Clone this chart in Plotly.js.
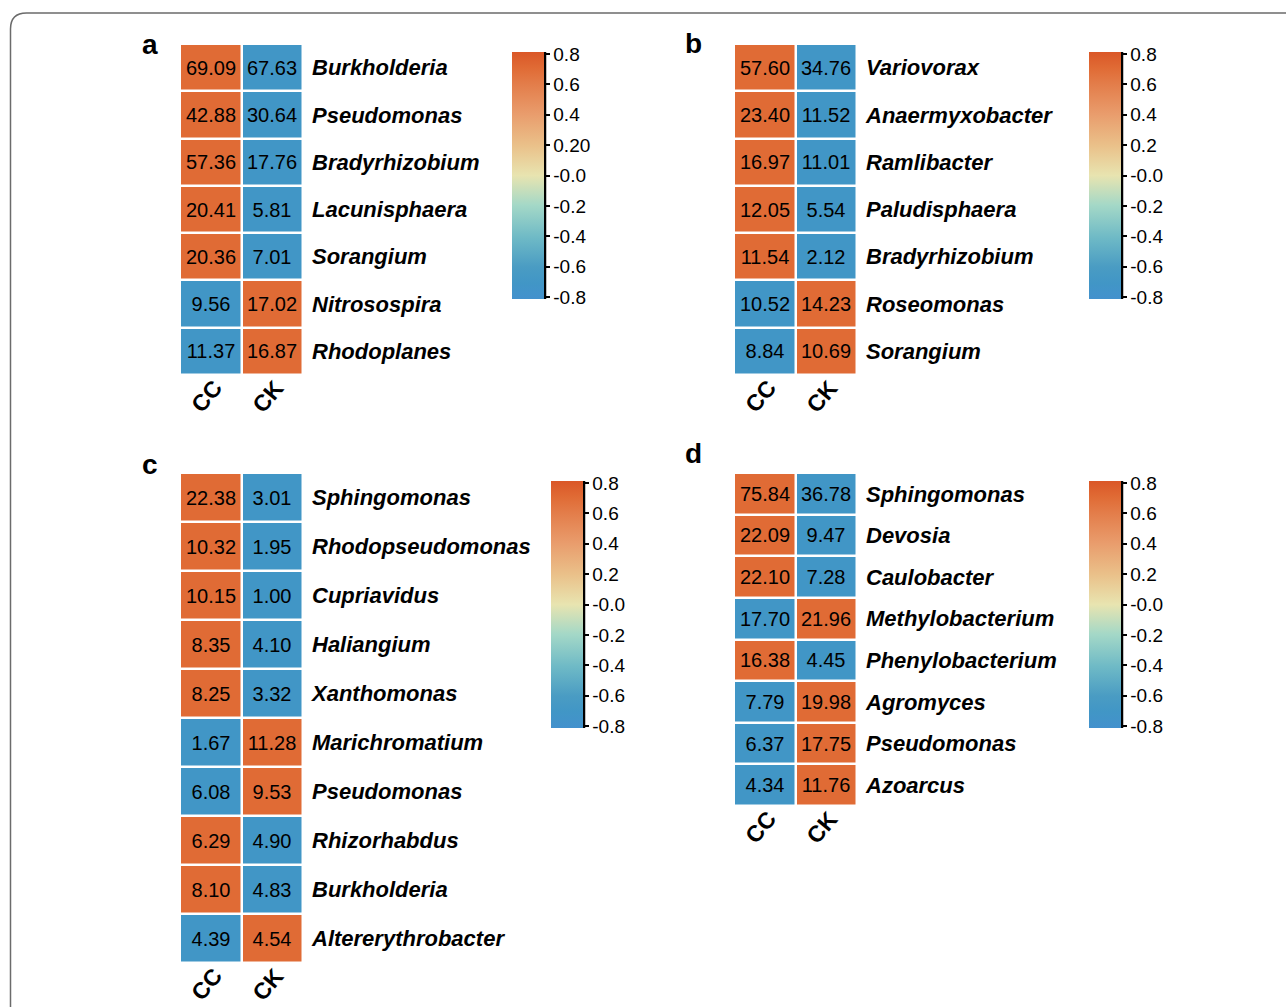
<!DOCTYPE html>
<html>
<head>
<meta charset="utf-8">
<script src="https://cdn.plot.ly/plotly-3.0.1.min.js"></script>
<style>html,body{margin:0;padding:0;background:#fff;}#chart{width:1287px;height:1007px;}</style>
</head>
<body>
<div id="chart"></div>
<script>
// ---------- data ----------
var samples = ["CC", "CK"];

var aGenera = ["Burkholderia", "Pseudomonas", "Bradyrhizobium", "Lacunisphaera", "Sorangium", "Nitrosospira", "Rhodoplanes"];
var aCC = [69.09, 42.88, 57.36, 20.41, 20.36, 9.56, 11.37];
var aCK = [67.63, 30.64, 17.76, 5.81, 7.01, 17.02, 16.87];

var bGenera = ["Variovorax", "Anaermyxobacter", "Ramlibacter", "Paludisphaera", "Bradyrhizobium", "Roseomonas", "Sorangium"];
var bCC = [57.60, 23.40, 16.97, 12.05, 11.54, 10.52, 8.84];
var bCK = [34.76, 11.52, 11.01, 5.54, 2.12, 14.23, 10.69];

var cGenera = ["Sphingomonas", "Rhodopseudomonas", "Cupriavidus", "Haliangium", "Xanthomonas", "Marichromatium", "Pseudomonas", "Rhizorhabdus", "Burkholderia", "Altererythrobacter"];
var cCC = [22.38, 10.32, 10.15, 8.35, 8.25, 1.67, 6.08, 6.29, 8.10, 4.39];
var cCK = [3.01, 1.95, 1.00, 4.10, 3.32, 11.28, 9.53, 4.90, 4.83, 4.54];

var dGenera = ["Sphingomonas", "Devosia", "Caulobacter", "Methylobacterium", "Phenylobacterium", "Agromyces", "Pseudomonas", "Azoarcus"];
var dCC = [75.84, 22.09, 22.10, 17.70, 16.38, 7.79, 6.37, 4.34];
var dCK = [36.78, 9.47, 7.28, 21.96, 4.45, 19.98, 17.75, 11.76];

var cbTickVals = [0.8, 0.6, 0.4, 0.2, 0, -0.2, -0.4, -0.6, -0.8];
var cbTicksA = ["0.8", "0.6", "0.4", "0.20", "-0.0", "-0.2", "-0.4", "-0.6", "-0.8"];
var cbTicksOther = ["0.8", "0.6", "0.4", "0.2", "-0.0", "-0.2", "-0.4", "-0.6", "-0.8"];

// ---------- layout helpers ----------
var W = 1287, H = 1007;
function px(x) { return x / W; }
function py(y) { return 1 - y / H; }

var FONT = "Liberation Sans, Arial, Helvetica, sans-serif";
var colorscale = [
  [0.000, "#4391CD"],
  [0.065, "#4196C6"],
  [0.130, "#4A9CC3"],
  [0.250, "#6FBAC6"],
  [0.380, "#A4D8C7"],
  [0.500, "#E8E4B0"],
  [0.620, "#EAC18A"],
  [0.750, "#E99C6C"],
  [0.870, "#E37D4A"],
  [0.935, "#E06B35"],
  [1.000, "#DA5727"]
];
var ZR = 0.813;

// row-scaled values (z-score within each genus)
function rowScale(cc, ck) {
  return cc.map(function (v, i) {
    var m = (v + ck[i]) / 2;
    var sd = Math.sqrt(((v - m) * (v - m) + (ck[i] - m) * (ck[i] - m)) / 1);
    if (sd === 0) return [0, 0];
    return [(v - m) / sd, (ck[i] - m) / sd];
  });
}
function textGrid(cc, ck) {
  return cc.map(function (v, i) { return [v.toFixed(2), ck[i].toFixed(2)]; });
}

var panels = [
  {key: "a", genera: aGenera, cc: aCC, ck: aCK, x0: 180, x1: 303, y0: 44, y1: 375, cbx: 512, cby0: 52, cby1: 299, ticks: cbTicksA, lx: 150, ly: 45},
  {key: "b", genera: bGenera, cc: bCC, ck: bCK, x0: 734, x1: 857, y0: 44, y1: 375, cbx: 1089, cby0: 52, cby1: 299, ticks: cbTicksOther, lx: 693, ly: 44},
  {key: "c", genera: cGenera, cc: cCC, ck: cCK, x0: 180, x1: 303, y0: 473, y1: 963, cbx: 551, cby0: 481, cby1: 728, ticks: cbTicksOther, lx: 150, ly: 464},
  {key: "d", genera: dGenera, cc: dCC, ck: dCK, x0: 734, x1: 857, y0: 473, y1: 806, cbx: 1089, cby0: 481, cby1: 728, ticks: cbTicksOther, lx: 693, ly: 453}
];

var data = [];
var layout = {
  width: W, height: H,
  margin: {l: 0, r: 0, t: 0, b: 0},
  paper_bgcolor: "#fff",
  plot_bgcolor: "#fff",
  showlegend: false,
  font: {family: FONT, color: "#000"},
  annotations: [],
  shapes: []
};

panels.forEach(function (p, k) {
  var n = k + 1;
  var xa = "x" + (n === 1 ? "" : n), ya = "y" + (n === 1 ? "" : n);
  var xk = "xaxis" + (n === 1 ? "" : n), yk = "yaxis" + (n === 1 ? "" : n);
  data.push({
    type: "heatmap",
    x: samples,
    y: p.genera,
    z: rowScale(p.cc, p.ck),
    text: textGrid(p.cc, p.ck),
    texttemplate: "%{text}",
    textfont: {family: FONT, size: 20, color: "#000"},
    colorscale: colorscale,
    zmin: -ZR, zmax: ZR,
    xgap: 2.5, ygap: 2.5,
    hoverinfo: "skip",
    xaxis: xa, yaxis: ya,
    showscale: true,
    colorbar: {
      x: px(p.cbx), xanchor: "left", y: py(p.cby0), yanchor: "top",
      len: p.cby1 - p.cby0, lenmode: "pixels",
      thickness: 32, thicknessmode: "pixels",
      xpad: 0, ypad: 0, outlinewidth: 0, borderwidth: 0,
      tickmode: "array", tickvals: cbTickVals, ticktext: p.ticks,
      ticks: "outside", ticklen: 6, tickwidth: 2, tickcolor: "#000",
      tickfont: {family: FONT, size: 19, color: "#000"}
    }
  });
  layout[xk] = {
    domain: [px(p.x0), px(p.x1)],
    anchor: ya,
    type: "category",
    showgrid: false, zeroline: false, showline: false, ticks: "",
    showticklabels: false,
    fixedrange: true
  };
  layout[yk] = {
    domain: [py(p.y1), py(p.y0)],
    anchor: xa,
    side: "right",
    type: "category",
    autorange: "reversed",
    showgrid: false, zeroline: false, showline: false, ticks: "",
    ticklabelstandoff: 8,
    tickfont: {family: FONT, size: 22, color: "#000", weight: "bold", style: "italic"},
    fixedrange: true
  };
  // column labels
  samples.forEach(function (s) {
    layout.annotations.push({
      xref: xa, yref: "paper",
      x: s, y: py(p.y1 + 21),
      xshift: -4,
      text: "<b>" + s + "</b>",
      showarrow: false,
      textangle: -50,
      font: {family: FONT, size: 23, color: "#000"},
      xanchor: "center", yanchor: "middle"
    });
  });
  // panel letter
  layout.annotations.push({
    xref: "paper", yref: "paper",
    x: px(p.lx), y: py(p.ly),
    text: "<b>" + p.key + "</b>",
    showarrow: false,
    font: {family: FONT, size: 28, color: "#000"},
    xanchor: "center", yanchor: "middle"
  });
  // colorbar axis line
  layout.shapes.push({
    type: "line", xref: "paper", yref: "paper",
    x0: px(p.cbx + 33), x1: px(p.cbx + 33),
    y0: py(p.cby0), y1: py(p.cby1),
    line: {color: "#000", width: 2.5}
  });
});

// outer frame with rounded top-left corner
var r = 16;
var fx = 10.5, fy = 13;
layout.shapes.push({
  type: "path", xref: "paper", yref: "paper",
  path: "M " + px(fx) + "," + py(1010) +
        " L " + px(fx) + "," + py(fy + r) +
        " Q " + px(fx) + "," + py(fy) + " " + px(fx + r) + "," + py(fy) +
        " L " + px(1286) + "," + py(fy),
  line: {color: "#6b6b6b", width: 1.5}
});

Plotly.newPlot("chart", data, layout, {staticPlot: true, displayModeBar: false});
</script>
</body>
</html>
